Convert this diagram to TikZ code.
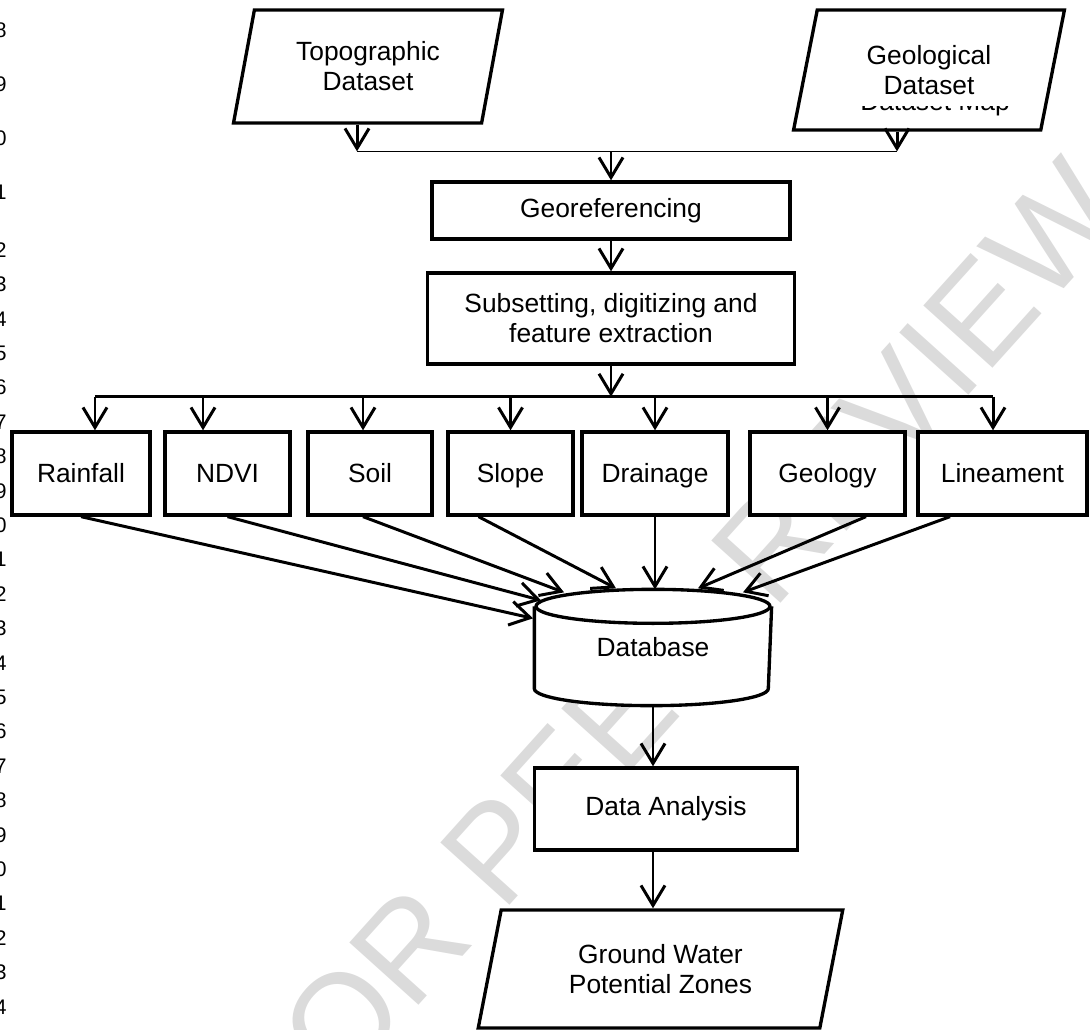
\documentclass[tikz,border=0pt]{standalone}
\usepackage{fontspec}
\setmainfont{Liberation Sans}
\usetikzlibrary{arrows.meta,shapes.geometric}

\begin{document}
\begin{tikzpicture}[x=0.02cm, y=-0.02cm,
  box/.style={draw, line width=1.9pt, fill=white, inner sep=0pt, align=center, font=\fontsize{15}{17}\selectfont},
  layer/.style={box, minimum height=1.66cm, text height=14pt, text depth=3.3pt},
  dataset/.style={box, trapezium, trapezium left angle=75, trapezium right angle=105, trapezium stretches=true},
  link/.style={line width=1.7pt},
  arr/.style={link, -{Straight Barb[length=0.4cm,width=0.48cm]}},
  lineno/.style={anchor=east, inner sep=0pt, font=\fontsize{12}{12}\selectfont},
  wmark/.style={text=black!14, rotate=48, inner sep=0pt, font=\fontsize{77}{77}\selectfont}
]
\useasboundingbox (0,0) rectangle (1090,1030);

% watermark and line numbers
\node[wmark] (wm) at (674,653) {FOR PEER REVIEW};
\foreach \d [count=\i from 0] in {8,9,0,1}
  \node[lineno] (la\i) at (7,30+54*\i) {\d};
\foreach \d [count=\i from 0] in {2,3,4,5,6,7,8,9,0,1,2,3,4,5,6,7,8,9,0,1,2,3,4}
  \node[lineno] (lb\i) at (7,250+34.4*\i) {\d};

% inputs
\node[dataset, minimum width=5.4cm, minimum height=2.26cm] (topo) at (368,66.5) {Topographic\\Dataset};
\node[dataset, minimum width=5.44cm, minimum height=2.4cm] (geod) at (929,70) {Geological\\Dataset};
\begin{scope}
  \clip (850,107) rectangle (1020,126);
  \node[anchor=base, inner sep=0pt, font=\fontsize{15}{17}\selectfont] (geomap) at (935,111) {Dataset Map};
\end{scope}

\node[box, minimum width=7.16cm, minimum height=1.14cm] (georef) at (611,210.5) {Georeferencing};
\node[box, minimum width=7.34cm, minimum height=1.82cm] (sub) at (611,318.5) {Subsetting, digitizing and\\feature extraction};

% layers
\node[layer, minimum width=2.76cm] (rain) at (81,473.5) {Rainfall};
\node[layer, minimum width=2.5cm] (ndvi) at (227.5,473.5) {NDVI};
\node[layer, minimum width=2.48cm] (soil) at (370,473.5) {Soil};
\node[layer, minimum width=2.5cm] (slope) at (510.5,473.5) {Slope};
\node[layer, minimum width=2.92cm] (drain) at (655,473.5) {Drainage};
\node[layer, minimum width=3.1cm] (geol) at (827.5,473.5) {Geology};
\node[layer, minimum width=3.38cm] (lin) at (1002.5,473.5) {Lineament};

% database
\node[box, draw=none, minimum width=4.68cm, minimum height=1.58cm] (db) at (653,647.5) {Database};
\path[fill=white] ([yshift=1pt]db.south west) -- (db.south west) arc[start angle=180, end angle=360, x radius=2.34cm, y radius=0.34cm] -- ([yshift=1pt]db.south east) -- cycle;
\draw[line width=1.9pt] (db.north west) -- (db.south west) arc[start angle=180, end angle=360, x radius=2.34cm, y radius=0.34cm] -- (db.north east);
\draw[line width=1.9pt, fill=white] (db.north) ellipse[x radius=2.34cm, y radius=0.34cm];
\coordinate (dbtop) at ([yshift=0.34cm]db.north);
\coordinate (dbbot) at ([yshift=-0.34cm]db.south);

\node[box, minimum width=5.26cm, minimum height=1.64cm] (da) at (666,809) {Data Analysis};
\node[dataset, minimum width=7.3cm, minimum height=2.36cm] (gw) at (660.5,969) {Ground Water\\Potential Zones};

% arrows
\path (georef.north) ++(0,-29) coordinate (join);
\path (sub.south) ++(0,31) coordinate (bus);
\path ([xshift=-0.22cm]topo.south) coordinate (topo-out);
\path ([xshift=-0.64cm]geod.south) coordinate (geod-out);
\draw[line width=0.7pt] (topo-out |- join) -- (geod-out |- join);
\path[arr]
(topo-out) edge (topo-out |- join)
(geod-out) edge (geod-out |- join)
(join) edge (georef.north)
(georef) edge (sub)
(sub.south) edge (bus)
;
\foreach \n/\s in {rain/0.28, ndvi/-0.49, soil/-0.14, slope/0, drain/0, geol/0, lin/-0.19}
{
  \path ([xshift=\s cm]\n.north) coordinate (\n-in);
  \draw[arr] (\n-in |- bus) -- (\n-in);
}
\draw[link] (rain-in |- bus) -- (lin-in |- bus);

\foreach \n/\a/\bx/\by in {rain/0/-2.4/-0.24, ndvi/0/-2.24/0.12, soil/-0.14/-1.78/0.28, slope/-0.64/-0.74/0.36, geol/0.77/0.9/0.36, lin/-1.05/1.8/0.28}
  \draw[arr] ([xshift=\a cm]\n.south) -- ([xshift=\bx cm, yshift=\by cm]db.north);
\path[arr]
(drain.south) edge (drain.south |- dbtop)
(dbbot) edge (dbbot |- da.north)
(dbbot |- da.south) edge (dbbot |- gw.north)
;
\end{tikzpicture}
\end{document}
